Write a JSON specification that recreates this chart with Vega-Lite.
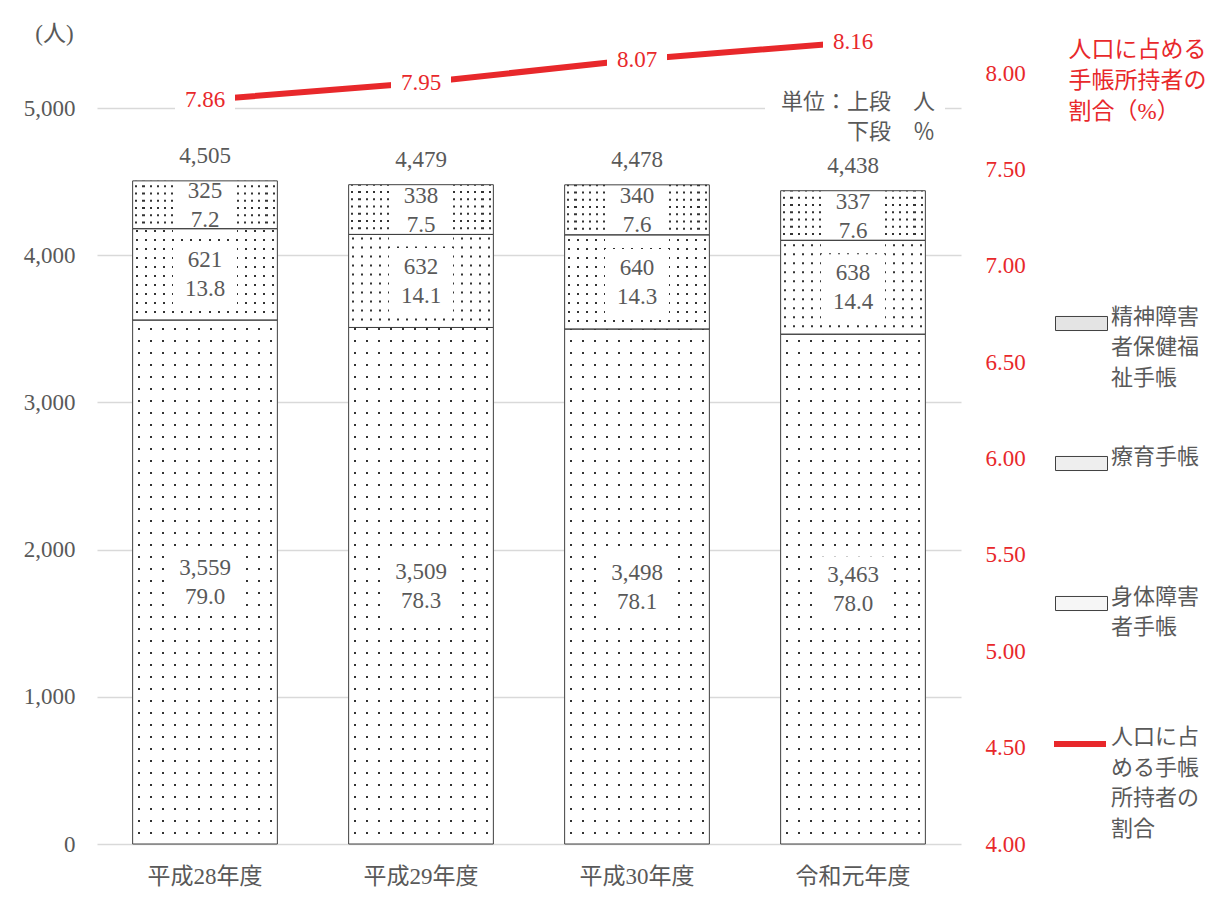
{
  "$schema": "https://vega.github.io/schema/vega-lite/v6.json",
  "width": 864,
  "height": 828,
  "autosize": {"type": "none"},
  "padding": {"left": 97, "top": 16, "right": 247, "bottom": 53},
  "background": "white",
  "config": {
    "font": "Liberation Serif, Noto Sans CJK JP",
    "view": {"stroke": null},
    "style": {"guide-label": {"lineHeight": 30.5}}
  },
  "datasets": {
    "seg": [
      {"year": "平成28年度", "cat": "身体障害者手帳", "k": 1, "count": 3559, "pct": 79.0},
      {"year": "平成28年度", "cat": "療育手帳", "k": 2, "count": 621, "pct": 13.8},
      {"year": "平成28年度", "cat": "精神障害者保健福祉手帳", "k": 3, "count": 325, "pct": 7.2},
      {"year": "平成29年度", "cat": "身体障害者手帳", "k": 1, "count": 3509, "pct": 78.3},
      {"year": "平成29年度", "cat": "療育手帳", "k": 2, "count": 632, "pct": 14.1},
      {"year": "平成29年度", "cat": "精神障害者保健福祉手帳", "k": 3, "count": 338, "pct": 7.5},
      {"year": "平成30年度", "cat": "身体障害者手帳", "k": 1, "count": 3498, "pct": 78.1},
      {"year": "平成30年度", "cat": "療育手帳", "k": 2, "count": 640, "pct": 14.3},
      {"year": "平成30年度", "cat": "精神障害者保健福祉手帳", "k": 3, "count": 340, "pct": 7.6},
      {"year": "令和元年度", "cat": "身体障害者手帳", "k": 1, "count": 3463, "pct": 78.0},
      {"year": "令和元年度", "cat": "療育手帳", "k": 2, "count": 638, "pct": 14.4},
      {"year": "令和元年度", "cat": "精神障害者保健福祉手帳", "k": 3, "count": 337, "pct": 7.6}
    ],
    "tot": [
      {"year": "平成28年度", "total": 4505, "rate": 7.86},
      {"year": "平成29年度", "total": 4479, "rate": 7.95},
      {"year": "平成30年度", "total": 4478, "rate": 8.07},
      {"year": "令和元年度", "total": 4438, "rate": 8.16}
    ]
  },
  "resolve": {"scale": {"y": "independent"}},
  "layer": [
    {
      "layer": [
        {
          "data": {"name": "seg"},
          "transform": [
            {"stack": "count", "groupby": ["year"], "sort": [{"field": "k", "order": "ascending"}], "as": ["y0", "y1"]},
            {"calculate": "(datum.y0 + datum.y1) / 2", "as": "mid"}
          ],
          "layer": [
            {
              "transform": [{"filter": "datum.cat === '精神障害者保健福祉手帳'"}],
              "mark": {"type": "bar", "strokeWidth": 0,
                "fill": {"gradient": "linear", "x1": 0, "y1": 0, "x2": 1, "y2": 0, "stops": [
                        {"offset": 0.018, "color": "#ffffff"}, {"offset": 0.018, "color": "#333333"}, {"offset": 0.032, "color": "#333333"}, {"offset": 0.032, "color": "#ffffff"},
                        {"offset": 0.068, "color": "#ffffff"}, {"offset": 0.068, "color": "#333333"}, {"offset": 0.082, "color": "#333333"}, {"offset": 0.082, "color": "#ffffff"},
                        {"offset": 0.118, "color": "#ffffff"}, {"offset": 0.118, "color": "#333333"}, {"offset": 0.132, "color": "#333333"}, {"offset": 0.132, "color": "#ffffff"},
                        {"offset": 0.168, "color": "#ffffff"}, {"offset": 0.168, "color": "#333333"}, {"offset": 0.182, "color": "#333333"}, {"offset": 0.182, "color": "#ffffff"},
                        {"offset": 0.218, "color": "#ffffff"}, {"offset": 0.218, "color": "#333333"}, {"offset": 0.232, "color": "#333333"}, {"offset": 0.232, "color": "#ffffff"},
                        {"offset": 0.268, "color": "#ffffff"}, {"offset": 0.268, "color": "#333333"}, {"offset": 0.282, "color": "#333333"}, {"offset": 0.282, "color": "#ffffff"},
                        {"offset": 0.318, "color": "#ffffff"}, {"offset": 0.318, "color": "#333333"}, {"offset": 0.332, "color": "#333333"}, {"offset": 0.332, "color": "#ffffff"},
                        {"offset": 0.368, "color": "#ffffff"}, {"offset": 0.368, "color": "#333333"}, {"offset": 0.382, "color": "#333333"}, {"offset": 0.382, "color": "#ffffff"},
                        {"offset": 0.418, "color": "#ffffff"}, {"offset": 0.418, "color": "#333333"}, {"offset": 0.432, "color": "#333333"}, {"offset": 0.432, "color": "#ffffff"},
                        {"offset": 0.468, "color": "#ffffff"}, {"offset": 0.468, "color": "#333333"}, {"offset": 0.482, "color": "#333333"}, {"offset": 0.482, "color": "#ffffff"},
                        {"offset": 0.518, "color": "#ffffff"}, {"offset": 0.518, "color": "#333333"}, {"offset": 0.532, "color": "#333333"}, {"offset": 0.532, "color": "#ffffff"},
                        {"offset": 0.568, "color": "#ffffff"}, {"offset": 0.568, "color": "#333333"}, {"offset": 0.582, "color": "#333333"}, {"offset": 0.582, "color": "#ffffff"},
                        {"offset": 0.618, "color": "#ffffff"}, {"offset": 0.618, "color": "#333333"}, {"offset": 0.632, "color": "#333333"}, {"offset": 0.632, "color": "#ffffff"},
                        {"offset": 0.668, "color": "#ffffff"}, {"offset": 0.668, "color": "#333333"}, {"offset": 0.682, "color": "#333333"}, {"offset": 0.682, "color": "#ffffff"},
                        {"offset": 0.718, "color": "#ffffff"}, {"offset": 0.718, "color": "#333333"}, {"offset": 0.732, "color": "#333333"}, {"offset": 0.732, "color": "#ffffff"},
                        {"offset": 0.768, "color": "#ffffff"}, {"offset": 0.768, "color": "#333333"}, {"offset": 0.782, "color": "#333333"}, {"offset": 0.782, "color": "#ffffff"},
                        {"offset": 0.818, "color": "#ffffff"}, {"offset": 0.818, "color": "#333333"}, {"offset": 0.832, "color": "#333333"}, {"offset": 0.832, "color": "#ffffff"},
                        {"offset": 0.868, "color": "#ffffff"}, {"offset": 0.868, "color": "#333333"}, {"offset": 0.882, "color": "#333333"}, {"offset": 0.882, "color": "#ffffff"},
                        {"offset": 0.918, "color": "#ffffff"}, {"offset": 0.918, "color": "#333333"}, {"offset": 0.932, "color": "#333333"}, {"offset": 0.932, "color": "#ffffff"},
                        {"offset": 0.968, "color": "#ffffff"}, {"offset": 0.968, "color": "#333333"}, {"offset": 0.982, "color": "#333333"}, {"offset": 0.982, "color": "#ffffff"}
                      ]}},
              "encoding": {
                "x": {"field": "year", "type": "nominal", "title": null,
                  "sort": ["平成28年度", "平成29年度", "平成30年度", "令和元年度"],
                  "scale": {"paddingInner": 0.33, "paddingOuter": 0.165},
                  "axis": {"labelAngle": 0, "labelFontSize": 23, "labelColor": "#595959", "labelPadding": 21, "ticks": false, "domain": false, "grid": false}},
                "y": {"field": "y0", "type": "quantitative", "scale": {"domain": [0, 5625], "nice": false},
                  "axis": {"values": [0, 1000, 2000, 3000, 4000, 5000], "labelExpr": "format(datum.value, ',')", "title": "(人)", "titleAngle": 0, "titleX": -43, "titleY": 17, "titleAlign": "center", "titleBaseline": "middle", "titleFontSize": 23, "titleFontWeight": "normal", "titleColor": "#595959", "labelFontSize": 23, "labelColor": "#595959", "labelPadding": 22, "ticks": false, "domain": false, "grid": true, "gridColor": "#d9d9d9", "gridWidth": 1.3}},
                "y2": {"field": "y1"}
              }
            },
            {
              "transform": [{"filter": "datum.cat === '療育手帳'"}],
              "mark": {"type": "bar", "strokeWidth": 0,
                "fill": {"gradient": "linear", "x1": 0, "y1": 0, "x2": 1, "y2": 0, "stops": [
                        {"offset": 0.0243, "color": "#ffffff"}, {"offset": 0.0243, "color": "#333333"}, {"offset": 0.0383, "color": "#333333"}, {"offset": 0.0383, "color": "#ffffff"},
                        {"offset": 0.0868, "color": "#ffffff"}, {"offset": 0.0868, "color": "#333333"}, {"offset": 0.1008, "color": "#333333"}, {"offset": 0.1008, "color": "#ffffff"},
                        {"offset": 0.1493, "color": "#ffffff"}, {"offset": 0.1493, "color": "#333333"}, {"offset": 0.1633, "color": "#333333"}, {"offset": 0.1633, "color": "#ffffff"},
                        {"offset": 0.2118, "color": "#ffffff"}, {"offset": 0.2118, "color": "#333333"}, {"offset": 0.2258, "color": "#333333"}, {"offset": 0.2258, "color": "#ffffff"},
                        {"offset": 0.2743, "color": "#ffffff"}, {"offset": 0.2743, "color": "#333333"}, {"offset": 0.2883, "color": "#333333"}, {"offset": 0.2883, "color": "#ffffff"},
                        {"offset": 0.3368, "color": "#ffffff"}, {"offset": 0.3368, "color": "#333333"}, {"offset": 0.3508, "color": "#333333"}, {"offset": 0.3508, "color": "#ffffff"},
                        {"offset": 0.3993, "color": "#ffffff"}, {"offset": 0.3993, "color": "#333333"}, {"offset": 0.4133, "color": "#333333"}, {"offset": 0.4133, "color": "#ffffff"},
                        {"offset": 0.4618, "color": "#ffffff"}, {"offset": 0.4618, "color": "#333333"}, {"offset": 0.4758, "color": "#333333"}, {"offset": 0.4758, "color": "#ffffff"},
                        {"offset": 0.5243, "color": "#ffffff"}, {"offset": 0.5243, "color": "#333333"}, {"offset": 0.5383, "color": "#333333"}, {"offset": 0.5383, "color": "#ffffff"},
                        {"offset": 0.5868, "color": "#ffffff"}, {"offset": 0.5868, "color": "#333333"}, {"offset": 0.6008, "color": "#333333"}, {"offset": 0.6008, "color": "#ffffff"},
                        {"offset": 0.6493, "color": "#ffffff"}, {"offset": 0.6493, "color": "#333333"}, {"offset": 0.6633, "color": "#333333"}, {"offset": 0.6633, "color": "#ffffff"},
                        {"offset": 0.7118, "color": "#ffffff"}, {"offset": 0.7118, "color": "#333333"}, {"offset": 0.7258, "color": "#333333"}, {"offset": 0.7258, "color": "#ffffff"},
                        {"offset": 0.7743, "color": "#ffffff"}, {"offset": 0.7743, "color": "#333333"}, {"offset": 0.7883, "color": "#333333"}, {"offset": 0.7883, "color": "#ffffff"},
                        {"offset": 0.8368, "color": "#ffffff"}, {"offset": 0.8368, "color": "#333333"}, {"offset": 0.8508, "color": "#333333"}, {"offset": 0.8508, "color": "#ffffff"},
                        {"offset": 0.8993, "color": "#ffffff"}, {"offset": 0.8993, "color": "#333333"}, {"offset": 0.9133, "color": "#333333"}, {"offset": 0.9133, "color": "#ffffff"},
                        {"offset": 0.9618, "color": "#ffffff"}, {"offset": 0.9618, "color": "#333333"}, {"offset": 0.9758, "color": "#333333"}, {"offset": 0.9758, "color": "#ffffff"}
                      ]}},
              "encoding": {
                "x": {"field": "year", "type": "nominal", "sort": ["平成28年度", "平成29年度", "平成30年度", "令和元年度"]},
                "y": {"field": "y0", "type": "quantitative", "scale": {"domain": [0, 5625], "nice": false}},
                "y2": {"field": "y1"}
              }
            },
            {
              "transform": [{"filter": "datum.cat === '身体障害者手帳'"}],
              "mark": {"type": "bar", "strokeWidth": 0,
                "fill": {"gradient": "linear", "x1": 0, "y1": 0, "x2": 1, "y2": 0, "stops": [
                        {"offset": 0.0347, "color": "#ffffff"}, {"offset": 0.0347, "color": "#333333"}, {"offset": 0.0487, "color": "#333333"}, {"offset": 0.0487, "color": "#ffffff"},
                        {"offset": 0.118, "color": "#ffffff"}, {"offset": 0.118, "color": "#333333"}, {"offset": 0.132, "color": "#333333"}, {"offset": 0.132, "color": "#ffffff"},
                        {"offset": 0.2013, "color": "#ffffff"}, {"offset": 0.2013, "color": "#333333"}, {"offset": 0.2153, "color": "#333333"}, {"offset": 0.2153, "color": "#ffffff"},
                        {"offset": 0.2847, "color": "#ffffff"}, {"offset": 0.2847, "color": "#333333"}, {"offset": 0.2987, "color": "#333333"}, {"offset": 0.2987, "color": "#ffffff"},
                        {"offset": 0.368, "color": "#ffffff"}, {"offset": 0.368, "color": "#333333"}, {"offset": 0.382, "color": "#333333"}, {"offset": 0.382, "color": "#ffffff"},
                        {"offset": 0.4513, "color": "#ffffff"}, {"offset": 0.4513, "color": "#333333"}, {"offset": 0.4653, "color": "#333333"}, {"offset": 0.4653, "color": "#ffffff"},
                        {"offset": 0.5347, "color": "#ffffff"}, {"offset": 0.5347, "color": "#333333"}, {"offset": 0.5487, "color": "#333333"}, {"offset": 0.5487, "color": "#ffffff"},
                        {"offset": 0.618, "color": "#ffffff"}, {"offset": 0.618, "color": "#333333"}, {"offset": 0.632, "color": "#333333"}, {"offset": 0.632, "color": "#ffffff"},
                        {"offset": 0.7013, "color": "#ffffff"}, {"offset": 0.7013, "color": "#333333"}, {"offset": 0.7153, "color": "#333333"}, {"offset": 0.7153, "color": "#ffffff"},
                        {"offset": 0.7847, "color": "#ffffff"}, {"offset": 0.7847, "color": "#333333"}, {"offset": 0.7987, "color": "#333333"}, {"offset": 0.7987, "color": "#ffffff"},
                        {"offset": 0.868, "color": "#ffffff"}, {"offset": 0.868, "color": "#333333"}, {"offset": 0.882, "color": "#333333"}, {"offset": 0.882, "color": "#ffffff"},
                        {"offset": 0.9513, "color": "#ffffff"}, {"offset": 0.9513, "color": "#333333"}, {"offset": 0.9653, "color": "#333333"}, {"offset": 0.9653, "color": "#ffffff"}
                      ]}},
              "encoding": {
                "x": {"field": "year", "type": "nominal", "sort": ["平成28年度", "平成29年度", "平成30年度", "令和元年度"]},
                "y": {"field": "y0", "type": "quantitative", "scale": {"domain": [0, 5625], "nice": false}},
                "y2": {"field": "y1"}
              }
            },
            {
              "mark": {"type": "rule", "stroke": "white", "strokeWidth": 146},
              "encoding": {
                "x": {"field": "year", "type": "nominal", "sort": ["平成28年度", "平成29年度", "平成30年度", "令和元年度"]},
                "y": {"field": "y0", "type": "quantitative", "scale": {"domain": [0, 5625], "nice": false}},
                "y2": {"field": "y1"},
                "strokeDash": {"field": "k", "type": "nominal",
                  "scale": {"domain": [3, 2, 1], "range": [[5.25, 2], [7, 2], [10, 2]]},
                  "legend": null}
              }
            },
            {
              "mark": {"type": "point", "shape": "M-1,-1.03L1,-1.03L1,1.03L-1,1.03Z", "filled": true, "fill": "white", "strokeWidth": 0, "size": 4096, "opacity": 1},
              "encoding": {
                "x": {"field": "year", "type": "nominal", "sort": ["平成28年度", "平成29年度", "平成30年度", "令和元年度"]},
                "y": {"field": "mid", "type": "quantitative", "scale": {"domain": [0, 5625], "nice": false}}
              }
            },
            {
              "mark": {"type": "bar", "fillOpacity": 0, "stroke": "#404040", "strokeWidth": 1},
              "encoding": {
                "x": {"field": "year", "type": "nominal", "sort": ["平成28年度", "平成29年度", "平成30年度", "令和元年度"]},
                "y": {"field": "y0", "type": "quantitative", "scale": {"domain": [0, 5625], "nice": false}},
                "y2": {"field": "y1"},
                "fill": {"field": "cat", "type": "nominal",
                  "scale": {"domain": ["精神障害者保健福祉手帳", "療育手帳", "身体障害者手帳"], "range": ["#e4e4e4", "#eeeeee", "#f6f6f6"]},
                  "legend": {"orient": "none", "legendX": 958, "legendY": 281, "title": null, "direction": "vertical",
                    "symbolType": "M-1,-0.27L1,-0.27L1,0.27L-1,0.27Z", "symbolSize": 2704, "symbolStrokeColor": "#404040", "symbolStrokeWidth": 1, "symbolOpacity": 1,
                    "labelExpr": "datum.label == '精神障害者保健福祉手帳' ? ['精神障害','者保健福','祉手帳',' '] : datum.label == '療育手帳' ? ['療育手帳',' ',' ',' '] : ['身体障害','者手帳',' ',' ']",
                    "labelFontSize": 22, "labelColor": "#595959", "labelLimit": 0, "labelBaseline": "alphabetic", "labelOffset": 3, "rowPadding": 18}}
              }
            },
            {
              "mark": {"type": "text", "dy": -14, "fontSize": 23, "color": "#595959"},
              "encoding": {
                "x": {"field": "year", "type": "nominal", "sort": ["平成28年度", "平成29年度", "平成30年度", "令和元年度"]},
                "y": {"field": "mid", "type": "quantitative", "scale": {"domain": [0, 5625], "nice": false}},
                "text": {"field": "count", "type": "quantitative", "format": ","}
              }
            },
            {
              "mark": {"type": "text", "dy": 15, "fontSize": 23, "color": "#595959"},
              "encoding": {
                "x": {"field": "year", "type": "nominal", "sort": ["平成28年度", "平成29年度", "平成30年度", "令和元年度"]},
                "y": {"field": "mid", "type": "quantitative", "scale": {"domain": [0, 5625], "nice": false}},
                "text": {"field": "pct", "type": "quantitative", "format": ".1f"}
              }
            }
          ]
        },
        {
          "data": {"name": "tot"},
          "mark": {"type": "text", "dy": -25, "fontSize": 23, "color": "#595959"},
          "encoding": {
            "x": {"field": "year", "type": "nominal", "sort": ["平成28年度", "平成29年度", "平成30年度", "令和元年度"]},
            "y": {"field": "total", "type": "quantitative", "scale": {"domain": [0, 5625], "nice": false}},
            "text": {"field": "total", "type": "quantitative", "format": ","}
          }
        },
        {
          "data": {"values": [{"year": "令和元年度"}]},
          "layer": [
            {
              "mark": {"type": "point", "shape": "M-1,-0.12L1,-0.12L1,0.12L-1,0.12Z", "filled": true, "fill": "white", "strokeWidth": 0, "size": 32400, "opacity": 1, "xOffset": 2},
              "encoding": {
                "x": {"field": "year", "type": "nominal", "sort": ["平成28年度", "平成29年度", "平成30年度", "令和元年度"]},
                "y": {"datum": 5000, "type": "quantitative", "scale": {"domain": [0, 5625], "nice": false}}
              }
            },
            {
              "mark": {"type": "text", "text": ["単位：上段　人", "下段　％"], "align": "right", "baseline": "top", "dx": 82, "dy": -16, "lineHeight": 30, "fontSize": 22, "color": "#595959"},
              "encoding": {
                "x": {"field": "year", "type": "nominal", "sort": ["平成28年度", "平成29年度", "平成30年度", "令和元年度"]},
                "y": {"datum": 5000, "type": "quantitative", "scale": {"domain": [0, 5625], "nice": false}}
              }
            }
          ]
        }
      ]
    },
    {
      "data": {"name": "tot"},
      "layer": [
        {
          "mark": {"type": "line", "strokeWidth": 6},
          "encoding": {
            "x": {"field": "year", "type": "nominal", "sort": ["平成28年度", "平成29年度", "平成30年度", "令和元年度"]},
            "y": {"field": "rate", "type": "quantitative", "scale": {"domain": [4, 8.296], "nice": false, "zero": false},
              "axis": {"orient": "right", "values": [4, 4.5, 5, 5.5, 6, 6.5, 7, 7.5, 8], "format": ".2f",
                "title": ["人口に占める", "手帳所持者の", "割合（%）"], "titleAngle": 0, "titleX": 107, "titleY": 22, "titleAlign": "left", "titleBaseline": "top", "titleLineHeight": 31, "titleFontSize": 23, "titleFontWeight": "normal", "titleColor": "#e8282b",
                "labelFontSize": 23, "labelColor": "#e8282b", "labelPadding": 24, "ticks": false, "domain": false, "grid": false}},
            "stroke": {"datum": "人口に占める手帳所持者の割合", "type": "nominal", "scale": {"range": ["#e8282b"]},
              "legend": {"orient": "none", "legendX": 954, "legendY": 699, "title": null, "symbolType": "stroke", "symbolSize": 2704, "symbolStrokeWidth": 6,
                "labelExpr": "['人口に占','める手帳','所持者の','割合']", "labelFontSize": 22, "labelColor": "#595959", "labelBaseline": "alphabetic", "labelOffset": 2, "labelLimit": 0}}
          }
        },
        {
          "mark": {"type": "point", "shape": "M-1,-0.47L1,-0.47L1,0.47L-1,0.47Z", "filled": true, "fill": "white", "strokeWidth": 0, "size": 3600, "opacity": 1},
          "encoding": {
            "x": {"field": "year", "type": "nominal", "sort": ["平成28年度", "平成29年度", "平成30年度", "令和元年度"]},
            "y": {"field": "rate", "type": "quantitative", "scale": {"domain": [4, 8.296], "nice": false, "zero": false}}
          }
        },
        {
          "mark": {"type": "text", "fontSize": 23, "color": "#e8282b"},
          "encoding": {
            "x": {"field": "year", "type": "nominal", "sort": ["平成28年度", "平成29年度", "平成30年度", "令和元年度"]},
            "y": {"field": "rate", "type": "quantitative", "scale": {"domain": [4, 8.296], "nice": false, "zero": false}},
            "text": {"field": "rate", "type": "quantitative", "format": ".2f"}
          }
        }
      ]
    }
  ]
}
